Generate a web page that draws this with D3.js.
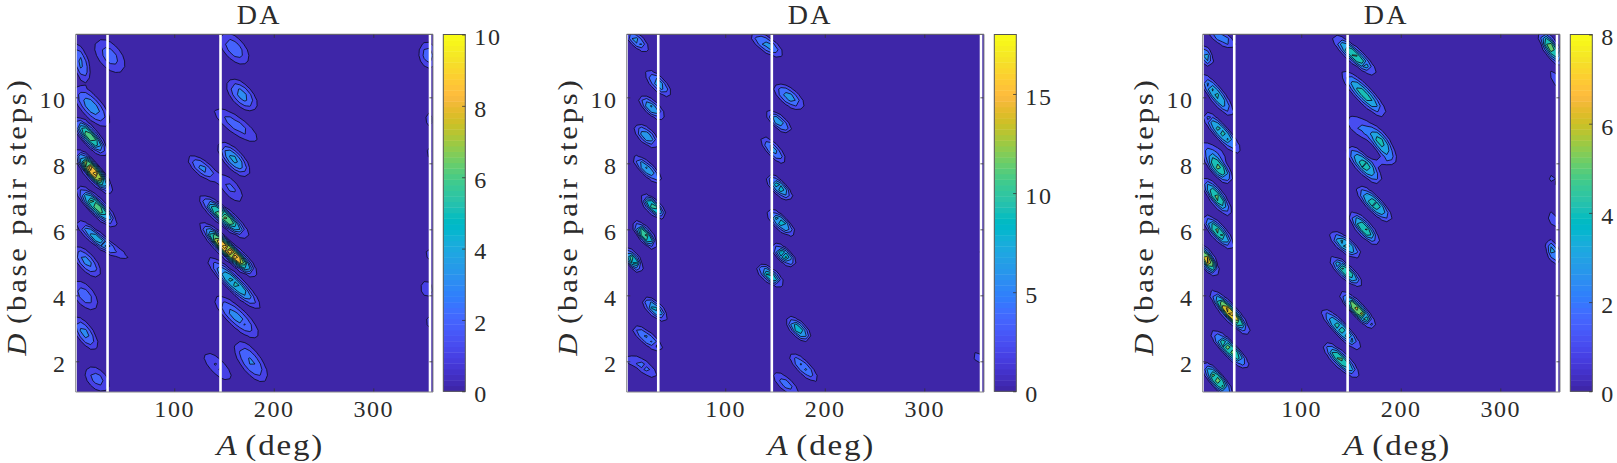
<!DOCTYPE html>
<html><head><meta charset="utf-8">
<script src="https://d3js.org/d3.v7.min.js"></script>
<style>
html,body{margin:0;padding:0;background:#fff}
svg{display:block}
text{font-family:"Liberation Serif",serif;fill:#2b2b2b}
</style></head><body>
<svg id="c" width="1617" height="463"></svg>
<script>
// Each peak: A (deg), D, peak value, outer contour half-length, half-width, lean
const peaks1 = [
 [6,11.05,3.3,20,7.5,18],[35.3,11.25,2.4,19.5,11,40],[160.3,11.48,2.6,19,10,42],[355,11.28,2.5,13,9,10],
 [17,9.72,3.6,25,10,42],[168,10.07,3.4,19.5,10,43],[162,9.16,2.4,26,8,54],[356,9.33,1.4,7,4,5],
 [15.3,8.81,7,25,8,42],[160,8.12,4.3,21.5,9,43],[356,8.33,1.3,5,3,5],[128.6,7.85,3.4,18,7,51],
 [157,7.24,2.2,16,7,40],[18.6,7.75,10,28,8,40],[22,6.69,7,27.5,8,45],[150,6.38,7.5,32,8,50],
 [20.3,5.78,4.3,24,6,50],[40,5.37,1.5,16,4,60],[152,5.43,9.9,36,8,46],[170,4.98,3,15,6,45],
 [160,4.37,5.5,36,8,46],[12,5.02,3.4,19,8,42],[10,4.0,2.5,17,9,40],[10.3,2.85,3.4,19,8,35],
 [22.6,1.46,2.4,14.5,9,45],[162.7,3.35,3.4,29,9,47],[177,1.99,3.1,24,10,37],[143.6,1.84,2.1,18,7,45],
 [353.6,4.2,1.6,8,6,10],[354.6,5.25,1.3,6,3,5],[355,3.2,1.3,6,3,5]
];
const peaks2 = [
 [11,11.72,7,15,6,48],[141.7,11.6,7,19,7,55],[32.7,10.42,7.5,17,6.5,45],[26,9.69,8.5,16,6.5,48],
 [21,8.83,8,15,7,48],[21.7,7.82,8.5,19,6,47],[27.7,6.69,12,16,6.5,46],[19.3,5.83,13,17,6.5,40],
 [164,10.02,7,18,8,52],[153.7,9.26,8,16,6,50],[148.3,8.4,7,17,6,43],[154.3,7.27,10,17,6.5,46],
 [156,6.2,10,18,6.5,47],[7,5.07,12,14,6.5,38],[29.3,3.59,9,16,6.5,47],[21.7,2.7,6.5,19,6,51],
 [21,1.76,4.5,12,5,55],[6,2.04,2.6,9,4,80],[173.7,2.97,10,16,7,45],[178.7,1.82,6.5,19,6,45],
 [161,1.31,5,16,6,48],[159,5.22,11,15,6.5,48],[145,4.6,11,16,6.5,52],[355,5.25,2.4,3,2,10],[354,2.11,2.6,6,4,20]
];
const peaks3 = [
 [20,11.8,2.8,16,6,58],[4.3,11.25,3.6,11,6,25],[15,10.07,4.4,26,7,38],[20,8.94,4.6,27,7,42],
 [16.7,7.88,5.5,20,8,40],[10,8.4,1.7,14,5,65],[15,6.99,5.5,23,7,37],[16.7,5.92,5.5,21.6,7,42],
 [153.3,11.28,5.3,29,7,48],[163,10.1,4.5,31,8,44],[181.7,8.56,4.1,19,8,34],[161.7,9.06,2.2,18,8,56],
 [181.7,8.05,1.4,10,3,100],[163.3,7.95,4.6,24.5,8,43],[173.3,6.77,5,24,7.5,45],[163.3,6.03,5.3,21,7,42],
 [351,11.5,6,20,7,33],[354,10.6,1.7,9,3,10],[353,7.5,1.5,6,3,30],[353,6.3,2,8,4,25],
 [5.7,5.07,7.5,18,7,32],[28.3,3.48,7.8,29,7,42],[28.3,2.36,5.8,26,7,45],[15.7,1.43,6,22,7,40],
 [144.3,5.53,4.6,19,7,52],[145,4.72,5.5,21,6.5,48],[156.7,3.56,6.8,25,6.5,44],[140,2.97,5,28,6.5,44],
 [140,2.04,5.4,24,7,46],[353,5.32,3.5,13,6,22]
];
const colorMax = [10,18,8];
const levelStep = [1,2,1];
const colorTicks = [[0,2,4,6,8,10],[0,5,10,15],[0,2,4,6,8]];
const blankAngles = [[1.5,33,146.5,357],[1.5,32.7,146.8,357],[1.5,32.7,146.6,357]];
const xTicks = [100,200,300];
const yTicks = [2,4,6,8,10];
const titles = ["DA","DA","DA"];
const aDomain = [1,360], dDomain = [1.07,11.91];
const parulaRows = [[.2422,.1504,.6603],[.2504,.165,.7076],[.2578,.1818,.7511],[.2647,.1978,.7952],[.2706,.2147,.8364],[.2751,.2342,.871],[.2783,.2559,.8991],[.2803,.2782,.9221],[.2813,.3006,.9414],[.281,.3228,.9579],[.2795,.3447,.9717],[.276,.3667,.9829],[.2699,.3892,.9906],[.2602,.4123,.9952],[.244,.4358,.9988],[.2206,.4603,.9973],[.1963,.4847,.9892],[.1834,.5074,.9798],[.1786,.5289,.9682],[.1764,.5499,.952],[.1687,.5703,.9359],[.154,.5902,.9218],[.146,.6091,.9079],[.138,.6276,.8973],[.1248,.6459,.8883],[.1113,.6635,.8763],[.0952,.6798,.8598],[.0689,.6948,.8394],[.0297,.7082,.8163],[.0036,.7203,.7917],[.0067,.7312,.766],[.0433,.7411,.7394],[.0964,.75,.712],[.1408,.7584,.6842],[.1717,.767,.6554],[.1938,.7758,.6251],[.2161,.7843,.5923],[.247,.7918,.5567],[.2906,.7973,.5188],[.3406,.8008,.4789],[.3909,.8029,.4354],[.4456,.8024,.3909],[.5044,.7993,.348],[.5616,.7942,.3045],[.6174,.7876,.2612],[.672,.7793,.2227],[.7242,.7698,.191],[.7738,.7598,.1646],[.8203,.7498,.1535],[.8634,.7406,.1596],[.9035,.733,.1774],[.9393,.7288,.21],[.9728,.7298,.2394],[.9956,.7434,.2371],[.997,.7659,.2199],[.9952,.7893,.2028],[.9892,.8136,.1885],[.9786,.8386,.1766],[.9676,.8639,.1643],[.961,.889,.1537],[.9597,.9135,.1423],[.9628,.9373,.1265],[.9691,.9606,.1064],[.9769,.9839,.0805]];
const parula = t => { const r = parulaRows[Math.min(63,Math.max(0,Math.floor(t*64)))];
  return d3.rgb(r[0]*255,r[1]*255,r[2]*255).formatHex(); };

const allPeaks = [peaks1,peaks2,peaks3];
const panelLeft = [75.7,626.7,1202.7], plotW = 357.3, plotTop = 34.3, plotBottom = 392;
const svg = d3.select("#c");
const BOX = "#555";
const tickFont = sel => sel.attr("font-size",24).attr("fill","#2b2b2b").style("letter-spacing","1.6px");

allPeaks.forEach((peaks,p)=>{
  const L = panelLeft[p], R = L+plotW;
  const x = d3.scaleLinear().domain(aDomain).range([L,R]);
  const y = d3.scaleLinear().domain(dDomain).range([plotBottom,plotTop]);
  const g = svg.append("g");
  const clipId = "clip"+p;
  g.append("clipPath").attr("id",clipId).append("rect").attr("x",L).attr("y",plotTop).attr("width",plotW).attr("height",plotBottom-plotTop);
  const plot = g.append("g").attr("clip-path",`url(#${clipId})`);
  plot.append("rect").attr("x",L).attr("y",plotTop).attr("width",plotW).attr("height",plotBottom-plotTop).attr("fill",parula(0));

  // sampled surface, on the coarse angle/rise bins of the source
  const dA=5, dD=0.17, A0=aDomain[0]-3*dA, D0=dDomain[0]-3*dD;
  const nx=Math.ceil((aDomain[1]-aDomain[0])/dA)+7, ny=Math.ceil((dDomain[1]-dDomain[0])/dD)+7;
  const step=levelStep[p];
  const vals=new Float64Array(nx*ny);
  const terms=peaks.map(([a,d,h,len,wid,tilt])=>{
    const t=tilt*Math.PI/180;
    return {px:x(a),py:y(d),h,k:Math.log(h/step),len,wid,s:Math.sin(t),c:Math.cos(t)};
  });
  for(let j=0;j<ny;j++)for(let i=0;i<nx;i++){
    const px=x(A0+i*dA), py=y(D0+j*dD); let v=0;
    terms.forEach(k=>{const dx=px-k.px,dy=py-k.py,
      u=(dx*k.s+dy*k.c)/k.len, w=(dx*k.c-dy*k.s)/k.wid, q=u*u+w*w;
      v+=k.h*Math.exp(-k.k*Math.pow(q,1.3));});
    vals[j*nx+i]=v;
  }
  const levels=d3.range(step,colorMax[p],step);
  const contours=d3.contours().size([nx,ny]).smooth(true).thresholds(levels)(Array.from(vals));
  const path=d3.geoPath(d3.geoTransform({point(gx,gy){
    this.stream.point(x(A0+(gx-.5)*dA),y(D0+(gy-.5)*dD));}}));
  plot.selectAll("path.band").data(contours).join("path").attr("class","band")
    .attr("d",path).attr("fill",d=>parula(d.value/colorMax[p]))
    .attr("stroke","#0a0a18").attr("stroke-width",.8).attr("stroke-linejoin","round");

  // blanked angle columns
  plot.selectAll("line.blank").data(blankAngles[p]).join("line").attr("class","blank")
    .attr("x1",d=>x(d)).attr("x2",d=>x(d)).attr("y1",plotTop).attr("y2",plotBottom)
    .attr("stroke","#fff").attr("stroke-width",(d,i)=>(i==0?1.2:2.6));

  // axes
  const ax=(a,ty)=>{const s=g.append("g").attr("transform",ty).call(a);
    s.selectAll(".domain").remove(); s.selectAll(".tick line").attr("stroke","#333").attr("stroke-width",.8);
    return s;};
  const bx=ax(d3.axisBottom(x).tickValues(xTicks).tickSize(-3.6).tickPadding(0),`translate(0,${plotBottom})`);
  bx.selectAll("text").attr("y",24.5).attr("dy",0).call(tickFont);
  const ly=ax(d3.axisLeft(y).tickValues(yTicks).tickSize(-3.6).tickFormat(d3.format("d")),`translate(${L},0)`);
  ly.selectAll("text").attr("x",-9).attr("dy",0).attr("y",10.4).call(tickFont);
  ax(d3.axisTop(x).tickValues(xTicks).tickSize(-3.6).tickFormat(""),`translate(0,${plotTop})`);
  ax(d3.axisRight(y).tickValues(yTicks).tickSize(-3.6).tickFormat(""),`translate(${R},0)`);
  const box=g.append("g").attr("fill","none");
  box.append("line").attr("x1",L).attr("x2",R).attr("y1",plotTop).attr("y2",plotTop).attr("stroke",BOX).attr("stroke-width",1);
  box.append("line").attr("x1",L).attr("x2",R).attr("y1",plotBottom).attr("y2",plotBottom).attr("stroke","#8a8a8a").attr("stroke-width",1);
  box.append("line").attr("x1",L).attr("x2",L).attr("y1",plotTop).attr("y2",plotBottom).attr("stroke","#8a8a8a").attr("stroke-width",1);
  box.append("line").attr("x1",R).attr("x2",R).attr("y1",plotTop).attr("y2",plotBottom).attr("stroke","#8a8a8a").attr("stroke-width",1);

  // labels
  g.append("text").attr("x",(L+R)/2+5).attr("y",23.5).attr("text-anchor","middle").attr("font-size",28).style("letter-spacing","2.4px").attr("fill","#1a1a1a").text(titles[p]);
  const xl=g.append("text").attr("transform",`translate(${(L+R)/2+16},455) scale(1.14,1)`).attr("text-anchor","middle").attr("font-size",29).style("letter-spacing","1.6px");
  xl.append("tspan").attr("font-style","italic").text("A");
  xl.append("tspan").attr("dx",6).text("(deg)");
  const yl=g.append("text").attr("transform",`translate(${L-49.5},${(plotTop+plotBottom)/2+3.5}) rotate(-90) scale(1.14,1)`).attr("text-anchor","middle").attr("font-size",27).style("letter-spacing","2.4px");
  yl.append("tspan").attr("font-style","italic").text("D");
  yl.append("tspan").attr("dx",6).text("(base pair steps)");

  // colour bar
  const cbL=R+10.3, cbW=22;
  const c=d3.scaleLinear().domain([0,colorMax[p]]).range([391.3,34.5]);
  const cb=g.append("g");
  cb.selectAll("rect").data(d3.range(64)).join("rect")
    .attr("x",cbL).attr("width",cbW)
    .attr("y",i=>c((i+1)/64*colorMax[p])).attr("height",i=>c(i/64*colorMax[p])-c((i+1)/64*colorMax[p])+.4)
    .attr("fill",i=>parula(i/64));
  cb.append("rect").attr("x",cbL).attr("y",34.5).attr("width",cbW).attr("height",391.3-34.5).attr("fill","none").attr("stroke",BOX).attr("stroke-width",1);
  const cx=ax(d3.axisRight(c).tickValues(colorTicks[p]).tickSize(-3.2).tickFormat(d3.format("d")),`translate(${cbL+cbW},0)`);
  cx.selectAll("text").attr("x",9).attr("dy",0).attr("y",10.4).call(tickFont);
});
</script></body></html>
